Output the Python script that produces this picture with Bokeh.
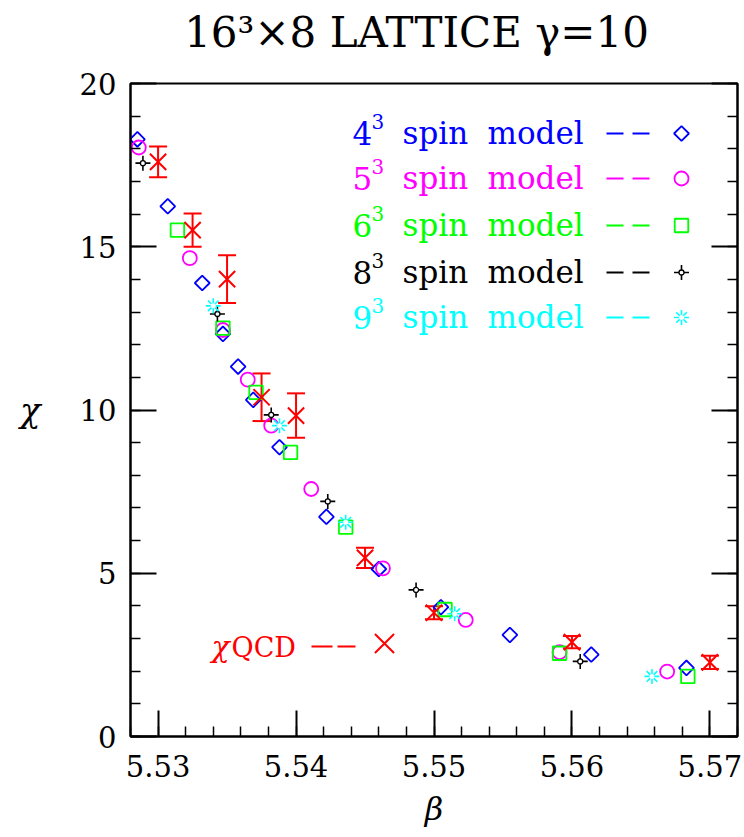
from bokeh.plotting import figure
from bokeh.models import (Range1d, FixedTicker, LinearAxis, Label, Whisker, TeeHead,
                          ColumnDataSource, CustomJSTickFormatter)
from bokeh.embed import file_html
from bokeh.resources import INLINE

# ---------------- data ----------------
beta4 = [5.5285, 5.5307, 5.5332, 5.5347, 5.5358, 5.5369, 5.5388, 5.5422, 5.5460, 5.5505, 5.5555, 5.5614, 5.5683]
chi4 = [18.29, 16.24, 13.89, 12.33, 11.33, 10.31, 8.86, 6.73, 5.13, 3.96, 3.11, 2.51, 2.10]

beta5 = [5.5286, 5.5323, 5.5347, 5.5365, 5.5382, 5.5411, 5.5463, 5.5523, 5.5591, 5.5669]
chi5 = [18.04, 14.65, 12.45, 10.93, 9.52, 7.58, 5.15, 3.57, 2.58, 1.99]

beta6 = [5.5314, 5.5347, 5.5371, 5.5396, 5.5436, 5.5508, 5.5591, 5.5684]
chi6 = [15.51, 12.51, 10.54, 8.70, 6.41, 3.89, 2.55, 1.84]

beta8 = [5.5289, 5.5343, 5.5382, 5.5423, 5.5487, 5.5606]
chi8 = [17.56, 12.94, 9.85, 7.20, 4.49, 2.30]

beta9 = [5.5340, 5.5388, 5.5436, 5.5515, 5.5658]
chi9 = [13.19, 9.52, 6.56, 3.76, 1.84]

betaQ = [5.530, 5.5325, 5.535, 5.5375, 5.540, 5.545, 5.550, 5.560, 5.570]
chiQ = [17.60, 15.51, 14.01, 10.39, 9.83, 5.47, 3.79, 2.89, 2.27]
errQ = [0.47, 0.51, 0.73, 0.73, 0.68, 0.31, 0.20, 0.19, 0.20]

x_ticks = [5.53, 5.54, 5.55, 5.56, 5.57]
x_minor = [round(5.528 + 0.002 * i, 3) for i in range(23)]
y_ticks = [0, 5, 10, 15, 20]
y_minor = list(range(0, 21))

title_text = "16³×8 LATTICE γ=10"
legend_sizes = ["4", "5", "6", "8", "9"]
legend_colors = ["#0000ff", "#ff00ff", "#00ff00", "#000000", "#00ffff"]

# ---------------- geometry ----------------
X0, X1, Y0, Y1 = 5.528, 5.572, 0.0, 20.0
W, H = 744, 837
FL, FR, FT, FB = 130, 737, 83, 736
BASE_FIX = 0.3  # empirical baseline correction (fraction of font size)


def dx(px):
    return X0 + (px - FL) / (FR - FL) * (X1 - X0)


def dy(py):
    return Y0 + (FB - py) / (FB - FT) * (Y1 - Y0)


def sy_base(py, fs):
    # screen y (from frame bottom) that puts the alphabetic baseline at pixel row py
    return FB - py + BASE_FIX * fs


SERIF = "DejaVu Serif"

p = figure(width=W, height=H, x_range=Range1d(X0, X1), y_range=Range1d(Y0, Y1),
           output_backend="svg", toolbar_location=None,
           min_border_left=FL, min_border_right=W - FR, min_border_top=FT,
           min_border_bottom=H - FB)
p.grid.visible = False
p.outline_line_color = "black"
p.outline_line_width = 2
p.background_fill_color = "white"
p.border_fill_color = "white"

# title as a label in the top panel
p.title.visible = False
p.add_layout(Label(x=416 - FL, y=51, x_units="screen", y_units="screen",
                   text=title_text, text_font=SERIF, text_font_size="42px",
                   text_color="black", text_align="center", text_baseline="alphabetic"),
             "above")

fmt = CustomJSTickFormatter(code="return tick.toFixed(2);")

for ax in p.xaxis:
    ax.ticker = FixedTicker(ticks=x_ticks, minor_ticks=x_minor)
    ax.formatter = fmt
for ax in p.yaxis:
    ax.ticker = FixedTicker(ticks=y_ticks, minor_ticks=y_minor)

for ax in list(p.xaxis) + list(p.yaxis):
    ax.major_tick_in = 26
    ax.major_tick_out = 0
    ax.minor_tick_in = 10
    ax.minor_tick_out = 0
    ax.axis_line_width = 2
    ax.major_tick_line_width = 2
    ax.minor_tick_line_width = 1.5
    ax.major_label_text_font = SERIF
    ax.major_label_text_font_size = "29px"
    ax.major_label_text_color = "black"
    ax.axis_label_text_font = SERIF
    ax.axis_label_text_font_style = "italic"
    ax.axis_label_text_color = "black"
p.xaxis.major_label_standoff = 18
p.yaxis.major_label_standoff = 14

p.xaxis.axis_label = "β"
p.xaxis.axis_label_text_font_size = "32px"
p.xaxis.axis_label_standoff = 10
p.yaxis.axis_label = "χ"
p.yaxis.axis_label_text_font_size = "34px"
p.yaxis.axis_label_orientation = "horizontal"
p.yaxis.axis_label_standoff = 36

# right axis (ticks only)
rax = LinearAxis(ticker=FixedTicker(ticks=y_ticks, minor_ticks=y_minor),
                 formatter=CustomJSTickFormatter(code="return '';"))
rax.major_tick_in = 26
rax.major_tick_out = 0
rax.minor_tick_in = 10
rax.minor_tick_out = 0
rax.axis_line_width = 2
rax.major_tick_line_width = 2
rax.minor_tick_line_width = 1.5
rax.major_label_standoff = 0
p.add_layout(rax, "right")

LW = 1.8


def draw_markers(xs, ys):
    """Draw the marker glyphs of the five spin-model series."""
    p.scatter(xs[0], ys[0], marker="square", angle=0.7853981634, size=10.5,
              fill_color=None, line_color=legend_colors[0], line_width=LW)
    p.scatter(xs[1], ys[1], marker="circle", size=14,
              fill_color=None, line_color=legend_colors[1], line_width=LW)
    p.scatter(xs[2], ys[2], marker="square", size=13.5,
              fill_color=None, line_color=legend_colors[2], line_width=LW)
    p.scatter(xs[3], ys[3], marker="cross", size=15,
              line_color=legend_colors[3], line_width=1.6)
    p.scatter(xs[3], ys[3], marker="circle", size=5,
              fill_color="white", line_color=legend_colors[3], line_width=1.3)
    p.scatter(xs[4], ys[4], marker="asterisk", size=15,
              line_color=legend_colors[4], line_width=1.6)
    p.scatter(xs[4], ys[4], marker="circle", size=5,
              fill_color="white", line_color=None)


# ---------------- spin model series ----------------
draw_markers([beta4, beta5, beta6, beta8, beta9], [chi4, chi5, chi6, chi8, chi9])

# ---------------- QCD with error bars ----------------
srcQ = ColumnDataSource(dict(x=betaQ, y=chiQ,
                             lo=[c - e for c, e in zip(chiQ, errQ)],
                             hi=[c + e for c, e in zip(chiQ, errQ)]))
wh = Whisker(source=srcQ, base="x", lower="lo", upper="hi", dimension="height",
             line_color="#ff0000", line_width=2,
             lower_head=TeeHead(size=18, line_color="#ff0000", line_width=2),
             upper_head=TeeHead(size=18, line_color="#ff0000", line_width=2))
p.add_layout(wh)
p.scatter("x", "y", source=srcQ, marker="x", size=23,
          line_color="#ff0000", line_width=2)

# ---------------- legend (drawn by hand) ----------------
rows_py = [133, 178, 225, 272, 317]
FS = 31
for lab, col, py in zip(legend_sizes, legend_colors, rows_py):
    base = py + 9
    p.add_layout(Label(x=352 - FL, y=sy_base(base, FS), x_units="screen", y_units="screen",
                       text=lab, text_font=SERIF, text_font_size=f"{FS}px",
                       text_color=col, text_baseline="alphabetic"))
    p.add_layout(Label(x=371 - FL, y=sy_base(base - 15, 20), x_units="screen", y_units="screen",
                       text="3", text_font=SERIF, text_font_size="20px",
                       text_color=col, text_baseline="alphabetic"))
    p.add_layout(Label(x=402 - FL, y=sy_base(base, FS), x_units="screen", y_units="screen",
                       text="spin", text_font=SERIF, text_font_size=f"{FS}px",
                       text_color=col, text_baseline="alphabetic"))
    p.add_layout(Label(x=487 - FL, y=sy_base(base, FS), x_units="screen", y_units="screen",
                       text="model", text_font=SERIF, text_font_size=f"{FS}px",
                       text_color=col, text_baseline="alphabetic"))
    p.line([dx(606), dx(650)], [dy(py), dy(py)], line_color=col, line_width=2,
           line_dash="17 9")

mx = dx(681)
draw_markers([[mx]] * 5, [[dy(r)] for r in rows_py])

# chi QCD legend entry
qy = 646
p.add_layout(Label(x=211 - FL, y=sy_base(655, 30), x_units="screen", y_units="screen",
                   text="χ", text_font=SERIF, text_font_style="italic",
                   text_font_size="30px", text_color="#ff0000", text_baseline="alphabetic"))
p.add_layout(Label(x=231 - FL, y=sy_base(655, 27), x_units="screen", y_units="screen",
                   text="QCD", text_font=SERIF, text_font_size="27px",
                   text_color="#ff0000", text_baseline="alphabetic"))
p.line([dx(311), dx(355)], [dy(qy), dy(qy)], line_color="#ff0000", line_width=2,
       line_dash="21 5")
p.scatter([dx(384)], [dy(643)], marker="x", size=27,
          line_color="#ff0000", line_width=2)

open("out.html", "w").write(file_html(p, INLINE))
